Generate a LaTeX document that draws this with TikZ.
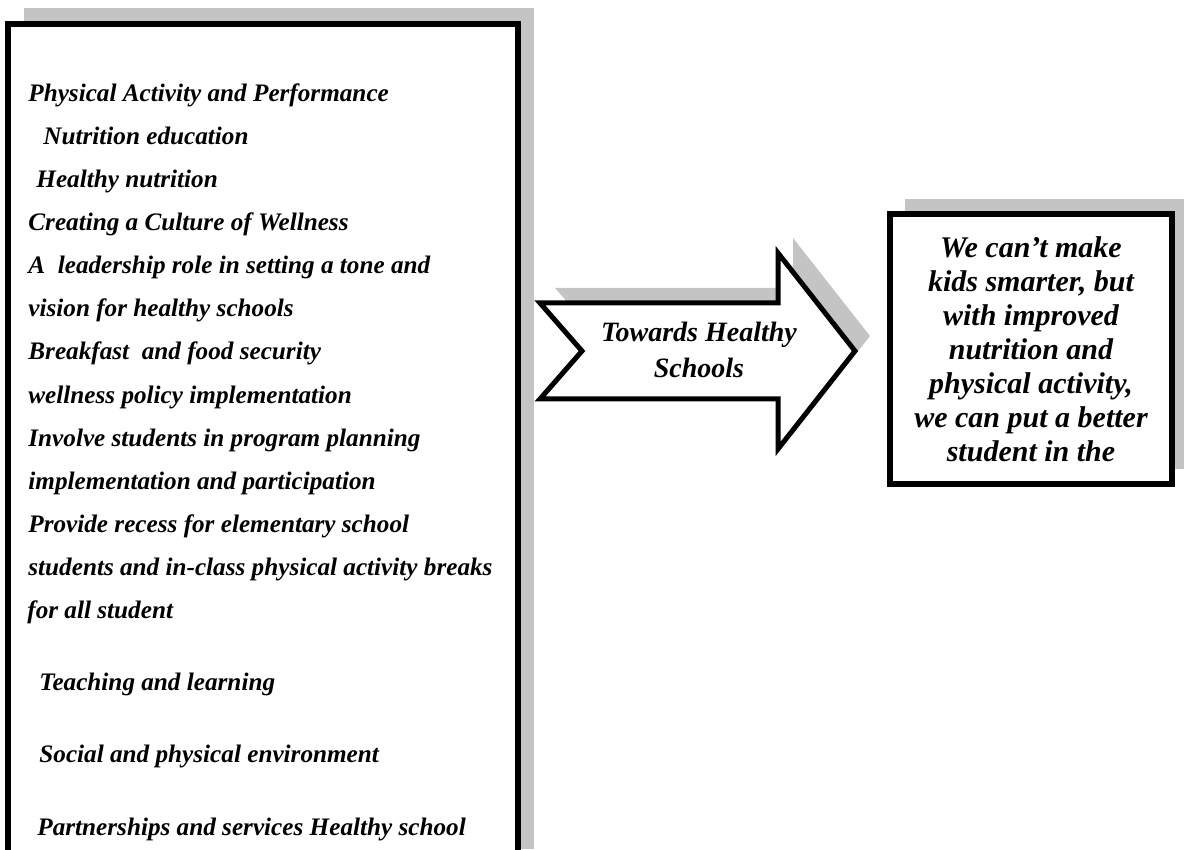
\documentclass[tikz,border=0pt]{standalone}
\usepackage{fontspec}
\setmainfont{Liberation Serif}
\usetikzlibrary{shadows}
\definecolor{shadegray}{HTML}{C4C4C4}

\begin{document}
\begin{tikzpicture}[x=0.5pt,y=-0.5pt,
  frame/.style={draw,fill=white,inner sep=0pt},
  boxshadow/.style={drop shadow={shadow xshift=#1,shadow yshift=#1,opacity=1,fill=shadegray}},
  item/.style={anchor=base west,inner sep=0pt,font=\fontsize{12.6}{15}\selectfont\bfseries\itshape}]
\useasboundingbox (0,0) rectangle (1184,850);
\clip (0,0) rectangle (1184,850);
\node[frame,line width=3.25pt,boxshadow=8pt,minimum width=255pt,minimum height=420.5pt] (goals) at (263,444.5) {};
\foreach \x/\y/\txt [count=\i] in {
  28/102/{Physical Activity and Performance},
  43/145/{Nutrition education},
  36/188/{Healthy nutrition},
  28/231/{Creating a Culture of Wellness},
  28/274/{A\ \ leadership role in setting a tone and},
  28/317/{vision for healthy schools},
  28/360/{Breakfast\ \ and food security},
  28/403/{wellness policy implementation},
  28/446/{Involve students in program planning},
  28/489/{implementation and participation},
  28/532/{Provide recess for elementary school},
  28/575/{students and in-class physical activity breaks},
  27/618/{for all student},
  39/690/{Teaching and learning},
  39/762/{Social and physical environment},
  37/835/{Partnerships and services Healthy school}}
  \node[item] (line\i) at (\x,\y) {\txt};
\fill[shadegray,shift={(15,-15)}] (540,303) -- (778,303) -- (778,253) -- (855,351) -- (778,449) -- (778,399) -- (540,399) -- (582,351) -- cycle;
\draw[line width=2.5pt,fill=white] (540,303) -- (778,303) -- (778,253) -- (855,351) -- (778,449) -- (778,399) -- (540,399) -- (582,351) -- cycle;
\node[align=center,font=\fontsize{14}{18}\selectfont\bfseries\itshape] (toward) at (699,350) {Towards Healthy\\Schools};
\node[frame,line width=3pt,boxshadow=7.5pt,minimum width=141pt,minimum height=135pt,align=center,font=\fontsize{15}{17}\selectfont\bfseries\itshape] (quote) at (1031,349) {We can’t make\\kids smarter, but\\with improved\\nutrition and\\physical activity,\\we can put a better\\student in the};
\end{tikzpicture}
\end{document}
